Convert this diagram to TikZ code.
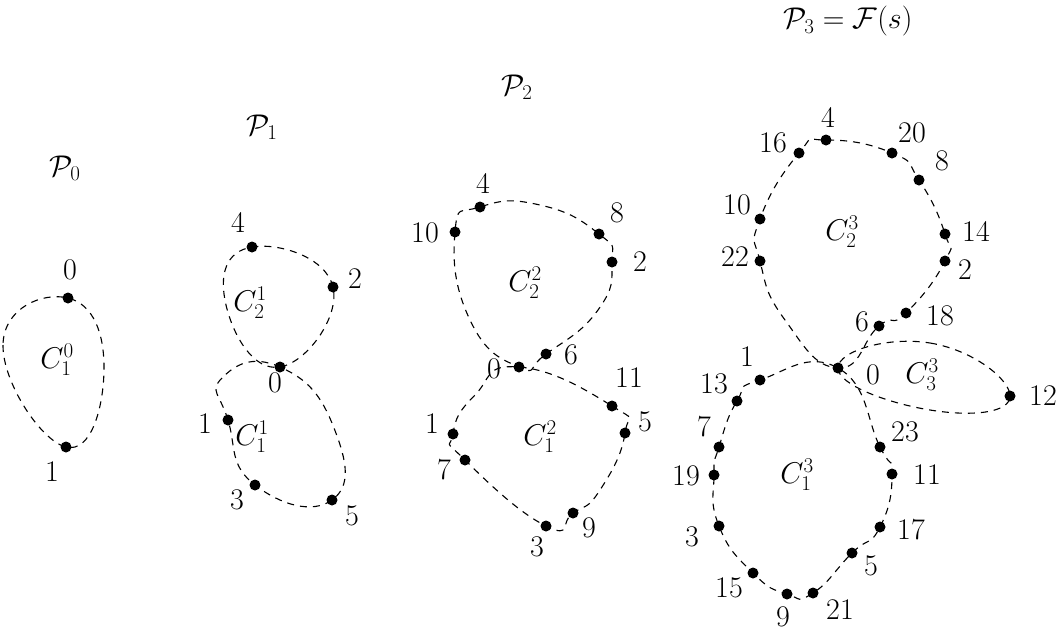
\documentclass[tikz,border=0pt]{standalone}
\usepackage{fix-cm}
\begin{document}
\begin{tikzpicture}[x=1pt,y=-1pt,
 dot/.style={circle,fill,inner sep=0pt,minimum size=11pt},
 lbl/.style={inner sep=0pt,font=\fontsize{30}{34}\selectfont},
 loop/.style={line width=1.1pt,dash pattern=on 7pt off 6pt,tension=0.9}]
\useasboundingbox (0,0) rectangle (1061,633);
\newcommand\dt[4]{\node[dot] (#1) at (#2) {}; \node[lbl] at (#3) {#4};}
% P0
\node[lbl] at (65,168) {$\mathcal{P}_0$};
\dt{a0}{68,298}{70,270}{0}
\dt{a1}{66,447}{52,472}{1}
\node[lbl] at (57,360) {$C_1^0$};
\draw[loop] plot[smooth cycle] coordinates {(a0) (3,345) (a1) (104,370)};
% P1
\node[lbl] at (262,127) {$\mathcal{P}_1$};
\dt{b0}{280,367}{275,383}{0}
\dt{b4}{252,247}{238,222}{4}
\dt{b2}{333,287}{355,279}{2}
\dt{b1}{228,420}{205,424}{1}
\dt{b3}{255,485}{237,500}{3}
\dt{b5}{332,500}{352,516}{5}
\node[lbl] at (250,303) {$C_2^1$};
\node[lbl] at (252,437) {$C_1^1$};
\draw[loop] plot[smooth cycle] coordinates {(b0) (b2) (b4) (226,305)};
\draw[loop] plot[smooth cycle] coordinates {(b0) (222,378) (b1) (b3) (b5) (334,428)};
% P2
\node[lbl] at (517,87) {$\mathcal{P}_2$};
\dt{c0}{519,367}{494,369}{0}
\dt{c6}{546,354}{571,355}{6}
\dt{c10}{455,232}{425,233}{10}
\dt{c4}{480,207}{483,183}{4}
\dt{c8}{599,234}{617,213}{8}
\dt{c2}{612,262}{640,262}{2}
\dt{c1}{453,434}{432,424}{1}
\dt{c7}{465,460}{444,470}{7}
\dt{c3}{546,526}{537,547}{3}
\dt{c9}{573,513}{589,528}{9}
\dt{c5}{625,433}{645,422}{5}
\dt{c11}{612,406}{629,378}{11}
\node[lbl] at (525,283) {$C_2^2$};
\node[lbl] at (540,437) {$C_1^2$};
\draw[loop] plot[smooth cycle] coordinates {(c0) (c6) (598,310) (c2) (c8) (540,205) (c4) (c10) (470,320)};
\draw[loop] plot[smooth cycle] coordinates {(c0) (c11) (c5) (600,490) (c9) (c3) (c7) (c1) (475,395)};
% P3
\node[lbl] at (848,21) {$\mathcal{P}_3=\mathcal{F}(s)$};
\dt{d0}{838,368}{873,375}{0}
\dt{d16}{799,153}{773,143}{16}
\dt{d4}{826,140}{828,117}{4}
\dt{d20}{892,153}{912,133}{20}
\dt{d8}{919,180}{942,161}{8}
\dt{d14}{945,234}{976,231}{14}
\dt{d2}{945,261}{965,270}{2}
\dt{d18}{906,313}{940,316}{18}
\dt{d6}{879,326}{862,322}{6}
\dt{d22}{760,261}{735,257}{22}
\dt{d10}{760,219}{737,205}{10}
\dt{d12}{1010,396}{1043,396}{12}
\dt{d1}{760,380}{747,357}{1}
\dt{d13}{737,401}{714,384}{13}
\dt{d7}{719,447}{704,427}{7}
\dt{d19}{714,475}{686,476}{19}
\dt{d3}{719,526}{692,537}{3}
\dt{d15}{753,573}{729,588}{15}
\dt{d9}{787,594}{783,617}{9}
\dt{d21}{813,593}{840,610}{21}
\dt{d5}{852,553}{871,566}{5}
\dt{d17}{880,527}{911,530}{17}
\dt{d11}{892,474}{927,475}{11}
\dt{d23}{880,447}{905,432}{23}
\node[lbl] at (842,232) {$C_2^3$};
\node[lbl] at (922,375) {$C_3^3$};
\node[lbl] at (797,475) {$C_1^3$};
\draw[loop] plot[smooth cycle] coordinates {(d0) (d6) (d18) (d2) (d14) (d8) (d20) (d4) (d16) (d10) (d22) (785,320)};
\draw[loop] plot[smooth cycle] coordinates {(d0) (930,343) (d12) (930,410)};
\draw[loop] plot[smooth cycle] coordinates {(d0) (d23) (d11) (d17) (d5) (d21) (d9) (d15) (d3) (d19) (d7) (d13) (d1)};
\end{tikzpicture}
\end{document}
